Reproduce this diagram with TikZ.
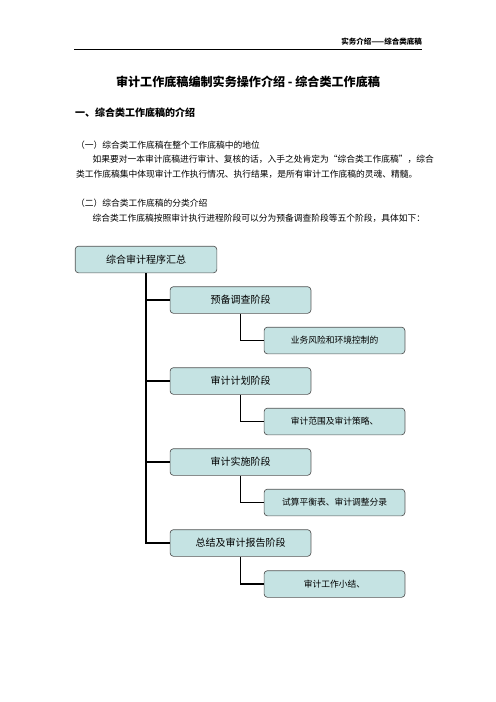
\documentclass[tikz,border=0pt]{standalone}
\usepackage{fontspec}
\setmainfont{Noto Sans CJK SC}
\usepackage{tikz}
\definecolor{boxfill}{RGB}{197,227,227}
\definecolor{boxline}{RGB}{85,85,85}

\begin{document}
\begin{tikzpicture}[x=1.2pt,y=-1.2pt,
	mainbox/.style={draw=boxline, fill=boxfill, rounded corners=4pt, line width=0.8pt,
		minimum width=170pt, minimum height=32pt, inner sep=0pt, font=\fontsize{12pt}{14pt}\selectfont},
	stagebox/.style={mainbox, minimum width=169pt},
	subbox/.style={mainbox, minimum width=169pt, font=\fontsize{10.5pt}{12pt}\selectfont},
	trunk/.style={line width=2pt},
	branch/.style={line width=1.4pt},
	bodytext/.style={anchor=west, inner sep=0pt, font=\fontsize{10.5pt}{12pt}\selectfont}]
	%\draw[help lines] (0,0) grid[step=50] (496,702);
	\useasboundingbox (0,0) rectangle (496,702);
	\node[anchor=east, inner sep=0pt, font=\fontsize{9pt}{10pt}\selectfont\bfseries] (header) at (422,42) {实务介绍——综合类底稿};
	\draw[line width=1pt] (74,49.5) coordinate (rulel) -- (422,49.5) coordinate (ruler);
	\node[inner sep=0pt, font=\fontsize{14.5pt}{16pt}\selectfont\bfseries] (title) at (248,82) {审计工作底稿编制实务操作介绍 - 综合类工作底稿};
	\node[anchor=west, inner sep=0pt, font=\fontsize{12pt}{14pt}\selectfont\bfseries] (heading) at (75,113) {一、综合类工作底稿的介绍};
	\node[bodytext] (parta) at (76,145) {（一）综合类工作底稿在整个工作底稿中的地位};
	\node[bodytext] (lineaa) at (92.5,159.5) {如果要对一本审计底稿进行审计、复核的话，入手之处肯定为“综合类工作底稿”，综合};
	\node[bodytext] (lineab) at (76,174.5) {类工作底稿集中体现审计工作执行情况、执行结果，是所有审计工作底稿的灵魂、精髓。};
	\node[bodytext] (partb) at (76,203) {（二）综合类工作底稿的分类介绍};
	\node[bodytext] (lineba) at (92.5,218.5) {综合类工作底稿按照审计执行进程阶段可以分为预备调查阶段等五个阶段，具体如下：};

	\node[mainbox] (summary) at (146,259.5) {综合审计程序汇总};
	\node[stagebox] (survey) at (240.5,300) {预备调查阶段};
	\node[subbox] (risk) at (334.5,340.5) {业务风险和环境控制的};
	\node[stagebox] (plan) at (240.5,381) {审计计划阶段};
	\node[subbox] (scope) at (334.5,421.5) {审计范围及审计策略、};
	\node[stagebox] (fieldwork) at (240.5,462) {审计实施阶段};
	\node[subbox] (trial) at (334.5,502.5) {试算平衡表、审计调整分录};
	\node[stagebox] (report) at (240.5,543) {总结及审计报告阶段};
	\node[subbox] (wrapup) at (334.5,584) {审计工作小结、};

	\draw[trunk] (summary.south) |- (report.west);
	\draw[branch] (summary.south |- survey.west) -- (survey.west);
	\draw[branch] (summary.south |- plan.west) -- (plan.west);
	\draw[branch] (summary.south |- fieldwork.west) -- (fieldwork.west);
	\draw[trunk] (survey.south) |- (risk.west);
	\draw[trunk] (plan.south) |- (scope.west);
	\draw[trunk] (fieldwork.south) |- (trial.west);
	\draw[trunk] (report.south) |- (wrapup.west);
\end{tikzpicture}
\end{document}
